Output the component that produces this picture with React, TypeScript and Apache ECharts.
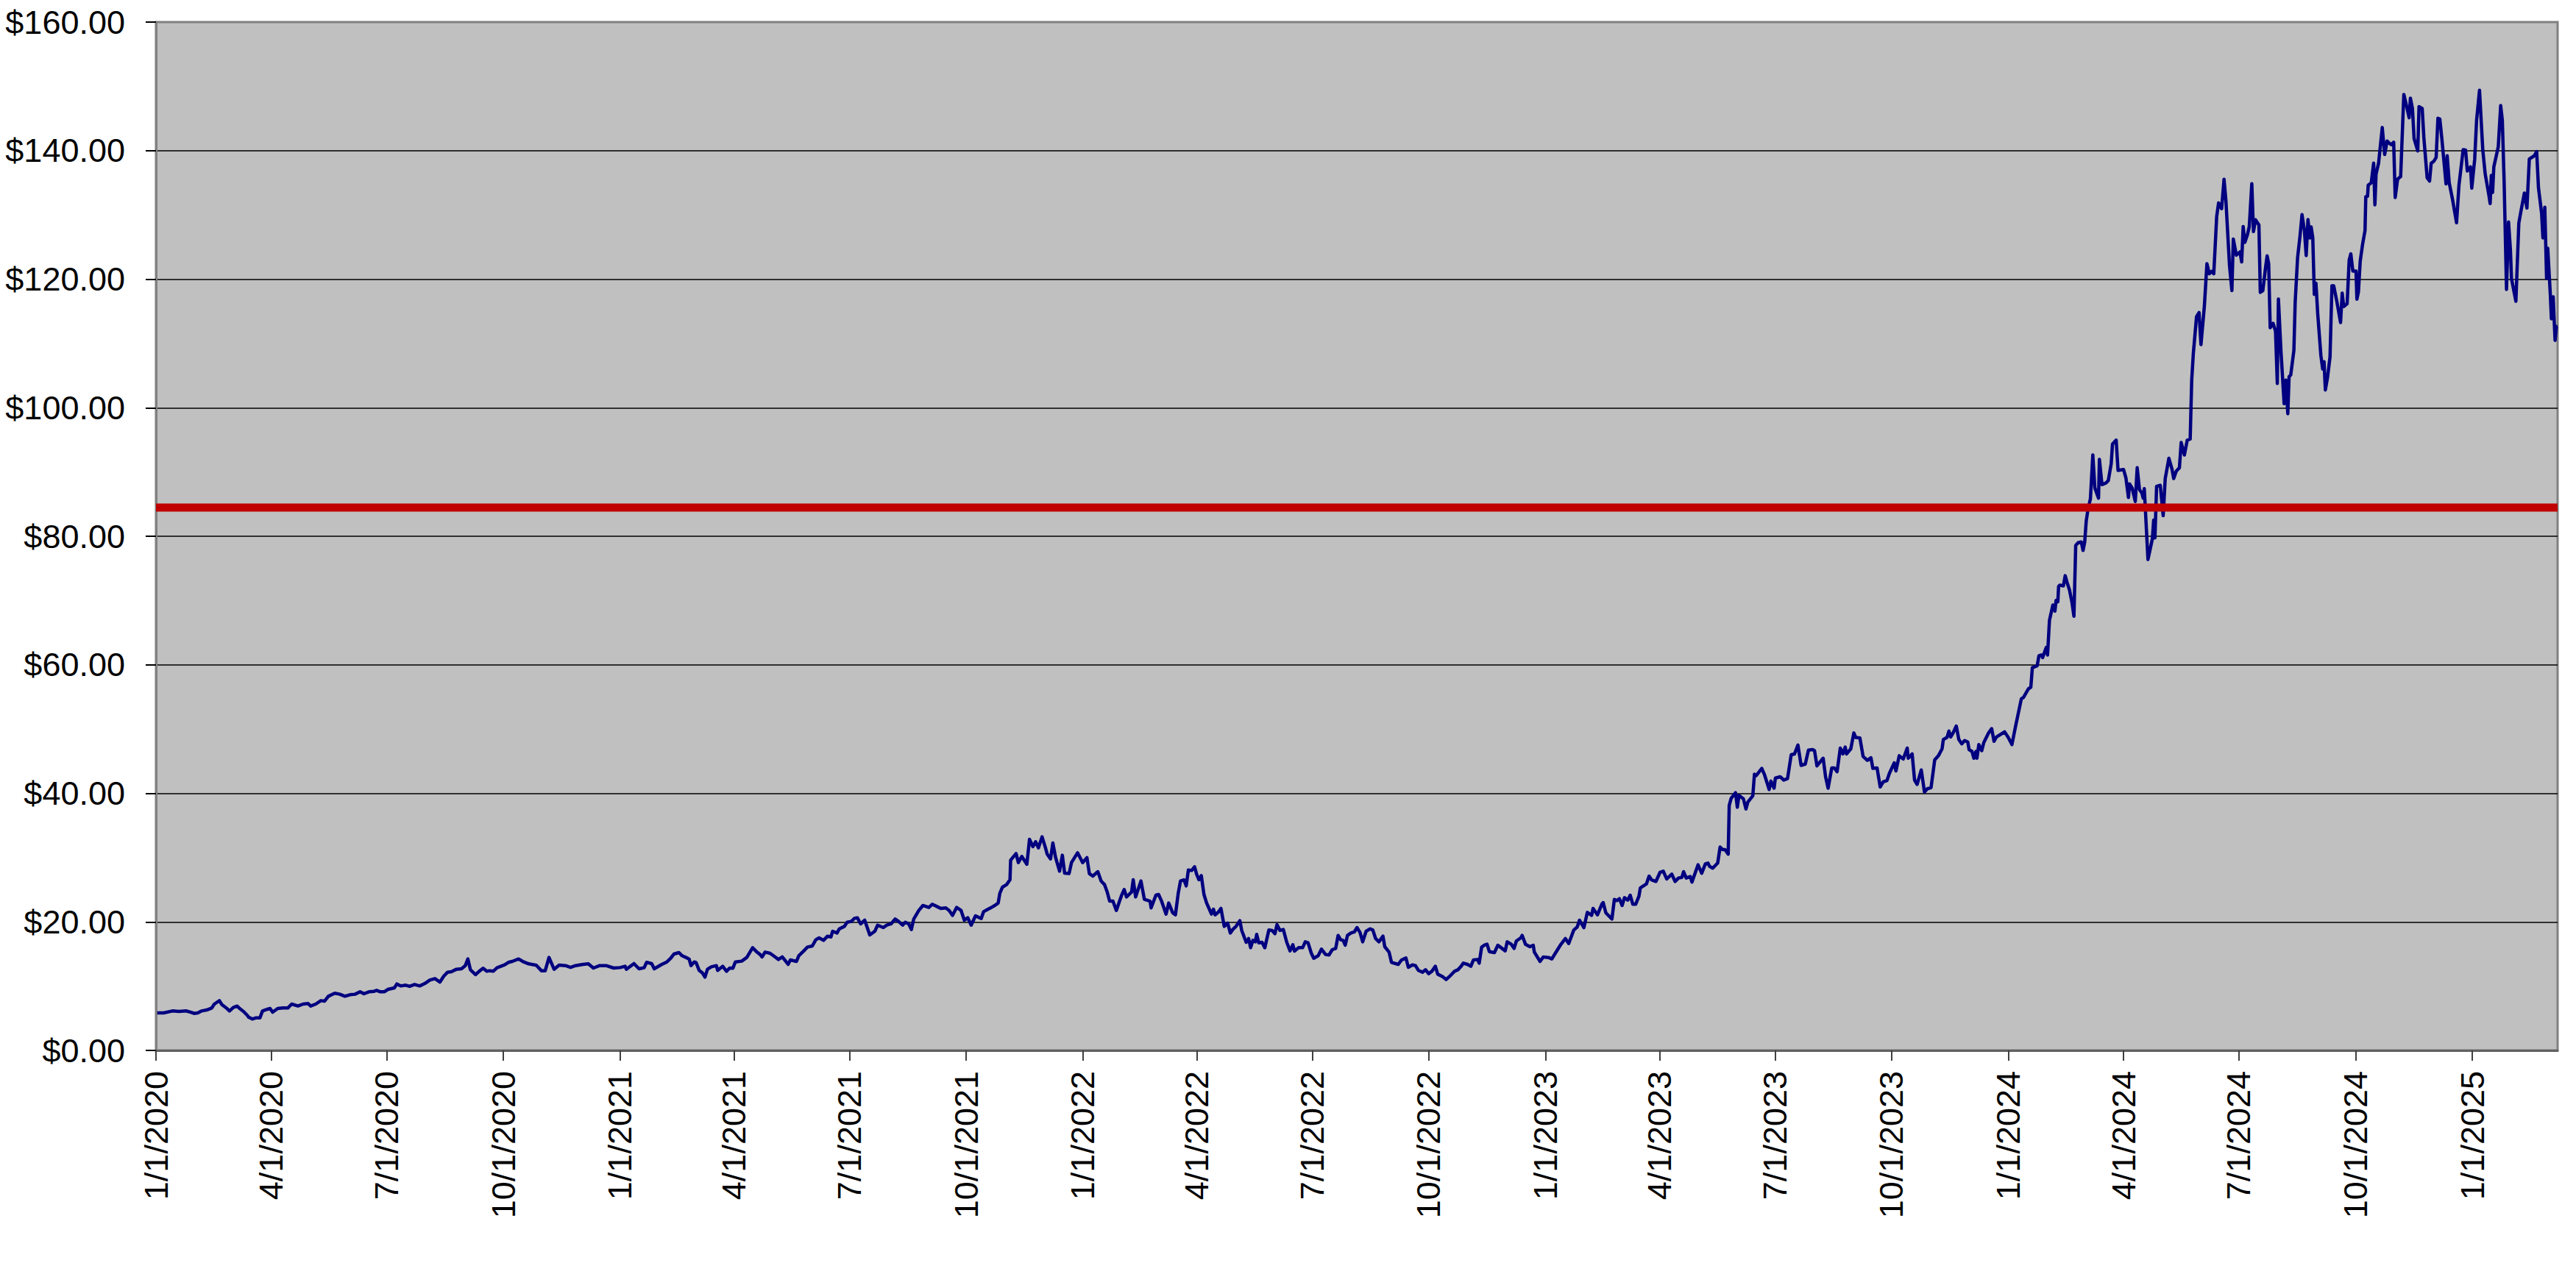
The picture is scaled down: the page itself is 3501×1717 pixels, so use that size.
import React, { useEffect, useRef } from "react";
import * as echarts from "echarts";

// X values are calendar days counted from 1/1/2020; Y values are prices in $.
const START_DATE = "2020-01-01";

const prices2020: [number, number][] = [
  [1, 5.84], [6, 5.84], [13, 6.14], [18, 6.07], [24, 6.14], [28, 5.91], [30, 5.76], [33, 5.84],
  [36, 6.14], [40, 6.29], [44, 6.6], [46, 7.21], [50, 7.74], [52, 7.13], [56, 6.52], [58, 6.14],
  [61, 6.68], [64, 6.9], [66, 6.52], [69, 6.07], [72, 5.46], [73, 5.19], [76, 4.88], [79, 5.07],
  [82, 5.07], [84, 6.14], [88, 6.41], [90, 6.52], [92, 5.95], [96, 6.52], [100, 6.6], [104, 6.6],
  [107, 7.21], [112, 6.9], [116, 7.21], [120, 7.29], [122, 6.9], [126, 7.21], [130, 7.74], [133, 7.67],
  [136, 8.43], [141, 8.89], [145, 8.74], [149, 8.43], [153, 8.66], [157, 8.74], [161, 9.12], [164, 8.81],
  [168, 9.12], [172, 9.19], [174, 9.35], [177, 9.12], [180, 9.12], [183, 9.5], [188, 9.73], [190, 10.34],
  [193, 10.03], [197, 10.15], [200, 9.96], [204, 10.26], [208, 10.03], [212, 10.41], [216, 10.95], [220, 11.18],
  [224, 10.64], [227, 11.56], [230, 12.17], [233, 12.25], [237, 12.63], [241, 12.7], [244, 13.2], [246, 14.23],
  [248, 12.55], [252, 11.79], [255, 12.32], [258, 12.78], [261, 12.32], [263, 12.4], [266, 12.32], [269, 12.86],
  [272, 13.09], [275, 13.31], [278, 13.7], [281, 13.85], [286, 14.23], [290, 13.77], [294, 13.47], [300, 13.24],
  [304, 12.4], [307, 12.4], [310, 14.46], [314, 12.63], [318, 13.28], [323, 13.2], [327, 12.93], [331, 13.2],
  [337, 13.39], [341, 13.47], [345, 12.82], [350, 13.2], [355, 13.2], [361, 12.82],
];

const prices2021: [number, number][] = [
  [366, 12.89], [370, 13.09], [371, 12.63], [377, 13.51], [381, 12.7], [385, 12.86], [387, 13.7], [391, 13.51],
  [393, 12.7], [399, 13.39], [403, 13.77], [406, 14.34], [408.5, 14.99], [412.5, 15.22], [415, 14.73], [418, 14.46],
  [420.5, 14.23], [422, 13.2], [424.5, 13.77], [426, 13.66], [428.5, 12.44], [431, 12.06], [433, 11.41], [435, 12.63],
  [438, 13.01], [442, 13.2], [443, 12.44], [447, 13.09], [450, 12.32], [452.5, 12.82], [455, 12.78], [457, 13.77],
  [462, 13.89], [466, 14.46], [468.5, 15.3], [470.6, 15.98], [474, 15.3], [476.5, 14.92], [478, 14.54], [480.5, 15.3],
  [484.4, 15.11], [488.4, 14.54], [491, 14.15], [494, 14.54], [496.4, 13.96], [498.6, 13.39], [500.4, 14.08], [505.2, 13.85],
  [507, 14.73], [511, 15.49], [513.7, 16.06], [517.7, 16.25], [520.4, 17.21], [523, 17.51], [526.5, 17.13], [529.7, 17.78],
  [532.4, 17.66], [533.7, 18.54], [537.2, 18.27], [539, 18.92], [543, 19.3], [545.2, 19.95], [548.4, 20.07], [551, 20.56],
  [553.2, 20.64], [555.8, 19.69], [559, 20.26], [563, 17.97], [567, 18.54], [569.2, 19.49], [573.7, 19.11], [576.4, 19.49],
  [579.8, 19.69], [583, 20.45], [585.7, 20.07], [588.9, 19.49], [591, 19.95], [593.7, 19.69], [595.8, 18.81], [597.7, 20.45],
  [601.7, 21.78], [604.9, 22.55], [609.6, 22.24], [612.3, 22.74], [616.3, 22.36], [619, 22.09], [623, 22.17], [625.6, 21.78],
  [628.3, 21.02], [631.5, 22.24], [635, 21.78], [637.6, 20.26], [640.3, 20.64], [643, 19.49], [646.4, 20.94], [650.9, 20.52],
  [652.8, 21.59], [656.3, 21.97], [658.9, 22.24], [661.6, 22.55], [664.3, 22.93], [665.6, 24.45], [667.7, 25.41], [670.9, 25.79],
  [673.6, 26.55], [674.1, 29.6], [678.4, 30.63], [680.2, 29.22], [682.9, 30.18], [686.9, 28.96], [689, 32.85], [691.7, 31.7],
  [693.8, 32.47], [696, 31.51], [698.9, 33.23], [701.6, 31.51], [702.9, 30.56], [705.6, 29.79], [707.4, 32.27], [709.6, 29.99],
  [712.7, 27.89], [714.9, 30.37], [716.7, 27.58], [720.2, 27.51], [722.1, 29.22], [726.9, 30.75],
];

const prices2022: [number, number][] = [
  [730.9, 29.22], [734.3, 29.99], [736.2, 27.51], [738.9, 27.12], [742.9, 27.81], [745.5, 26.36], [748.2, 25.79], [750.3, 24.64],
  [752.2, 23.23], [754.8, 23.23], [757.5, 21.78], [761.5, 24.07], [763.7, 25.03], [765.5, 23.88], [769.5, 24.64], [770.8, 26.55],
  [772.7, 23.88], [776.9, 26.36], [779.6, 23.5], [784.1, 23.23], [784.9, 22.17], [788.7, 24.15], [790.8, 24.26], [793, 23.31],
  [796.7, 21.21], [798.8, 22.93], [802, 21.4], [804.1, 21.1], [806.3, 24.45], [808.1, 26.36], [810.8, 26.55], [812.6, 25.6],
  [814.3, 28.08], [816.9, 28.0], [819.2, 28.57], [820.8, 27.43], [822.6, 26.55], [824.5, 27.2], [826.6, 24.26], [828.7, 22.93],
  [830.6, 22.09], [832.5, 21.21], [834.1, 21.97], [835.4, 21.1], [837.8, 21.48], [840, 22.09], [842.6, 19.3], [845.3, 19.8],
  [847.4, 18.27], [849.3, 18.81], [851.9, 19.3], [854.9, 20.18], [856.4, 18.66], [859.9, 16.82], [861.8, 17.4], [863.4, 15.98],
  [865.2, 17.13], [867.1, 16.9], [868.2, 18.05], [869.8, 16.75], [872.4, 16.82], [874.6, 15.98], [877.8, 18.73], [880.4, 18.66],
  [882.6, 18.16], [884.2, 19.57], [886.6, 18.66], [889.2, 18.81], [891.9, 16.82], [894.5, 15.49], [896.7, 16.44], [898, 15.45],
  [901.2, 15.98], [904.4, 15.98], [906.5, 16.9], [908.7, 16.75], [911.3, 15.11], [913.2, 14.34], [916.7, 14.73], [919.3, 15.76],
  [922.5, 14.92], [925.2, 14.84], [927.8, 15.68], [930.5, 15.87], [932.4, 17.89], [934.5, 17.21], [936.4, 17.13], [938, 16.37],
  [939.8, 17.89], [942.5, 18.27], [945.2, 18.43], [947.3, 19.11], [949.7, 18.35], [951.8, 16.9], [954.5, 18.54], [957.7, 18.92],
  [959.8, 18.73], [962, 17.4], [964.6, 16.9], [967.8, 17.78], [969.2, 16.14], [972.6, 15.3], [974.5, 13.7], [979.8, 13.39],
  [982.5, 14.08], [985.9, 14.38], [987.8, 12.93], [991, 13.31], [993.4, 13.2], [995.8, 12.44], [999, 12.17], [1001.4, 12.55],
  [1003.8, 11.94], [1006.4, 12.32], [1009.1, 13.09], [1011, 11.86], [1014.9, 11.48], [1017.6, 11.03], [1021.1, 11.67], [1024.3, 12.32],
  [1026.9, 12.55], [1029.1, 13.01], [1031.2, 13.58], [1034.4, 13.39], [1037.1, 13.09], [1039.2, 14.08], [1042.4, 14.15], [1043.7, 13.58],
  [1045.6, 16.06], [1047.7, 16.37], [1049.9, 16.52], [1051.7, 15.37], [1055.7, 15.22], [1058.4, 16.37], [1061, 15.98], [1064.2, 15.49],
  [1065.8, 16.9], [1069, 16.52], [1071.2, 15.87], [1073, 17.02], [1076.5, 17.51], [1077.6, 17.89], [1080.2, 16.52], [1083.7, 16.14],
  [1086.3, 16.37], [1087.2, 15.3], [1091.7, 13.85], [1094.3, 14.54],
];

const prices2023: [number, number][] = [
  [1098.3, 14.46], [1101, 14.23], [1103.7, 15.11], [1107.7, 16.37], [1111.7, 17.4], [1114.3, 16.63], [1118.3, 18.73], [1121, 19.19],
  [1122.8, 20.26], [1126.3, 19.11], [1129, 21.48], [1132.4, 21.02], [1133.5, 22.09], [1137, 21.1], [1140.4, 22.74], [1141.5, 23.0],
  [1143.6, 21.4], [1148.4, 20.45], [1150.3, 23.5], [1152.2, 23.31], [1154.3, 23.61], [1156.4, 22.55], [1158.3, 23.77], [1160.9, 23.39],
  [1162.8, 24.15], [1164.9, 22.74], [1167.1, 22.74], [1169.7, 24.0], [1170.8, 25.29], [1175.6, 25.9], [1177.7, 27.12], [1179.6, 26.55],
  [1183.1, 26.29], [1186.3, 27.7], [1188.9, 27.89], [1191.6, 26.67], [1195.6, 27.43], [1198.2, 26.29], [1200.9, 26.82], [1203.6, 26.93],
  [1204.9, 27.81], [1207, 26.82], [1210.2, 27.05], [1211.5, 26.19], [1216.3, 28.88], [1219.2, 27.57], [1222.1, 29.03], [1224.1, 29.15],
  [1225.4, 28.64], [1227.9, 28.36], [1231.8, 29.15], [1233.7, 31.64], [1235.7, 31.24], [1237.6, 31.24], [1240.1, 30.53], [1240.9, 38.11],
  [1242.4, 39.22], [1245.9, 40.09], [1247.3, 37.84], [1248.6, 39.69], [1252.1, 39.14], [1254.1, 37.56], [1255.6, 38.63], [1259.5, 39.61],
  [1260.8, 42.97], [1262.2, 42.77], [1266.6, 43.88], [1268.6, 42.97], [1272.4, 40.6], [1273.8, 41.9], [1276.3, 40.8], [1277.3, 42.38],
  [1281.1, 42.57], [1284, 42.06], [1286.9, 42.3], [1289.8, 46.01], [1292.4, 46.13], [1295.1, 47.51], [1297.6, 44.35], [1300.9, 44.55],
  [1303.4, 46.72], [1306.7, 46.8], [1308.2, 46.64], [1310.1, 44.27], [1315, 45.46], [1316.9, 42.57], [1318.9, 40.8], [1321.8, 43.96],
  [1323.7, 43.96], [1326, 43.37], [1328.5, 47.04], [1330.5, 46.13], [1332.4, 47.19], [1333.4, 46.13], [1336.8, 46.92], [1339.2, 49.4],
  [1340.7, 48.69], [1344, 48.61], [1346.5, 45.73], [1349.8, 45.14], [1352.7, 45.53], [1354.2, 43.88], [1357.5, 43.96], [1360, 41.0],
  [1362.4, 41.78], [1365.3, 41.98], [1367.2, 43.09], [1371.1, 44.75], [1372.4, 43.48], [1375, 45.85], [1378.2, 45.34], [1381.3, 47.04],
  [1382.1, 45.46], [1385.2, 46.13], [1387.1, 42.06], [1389.1, 41.39], [1392.4, 43.64], [1394.9, 40.21], [1397.2, 40.72], [1400.1, 40.88],
  [1403, 45.22], [1405.9, 45.85], [1408.8, 46.92], [1409.8, 48.38], [1412.7, 48.69], [1414.2, 49.68], [1415.6, 48.77], [1417.5, 49.4],
  [1420, 50.47], [1422, 48.38], [1424.3, 47.71], [1426.6, 48.22], [1429.1, 47.98], [1430.1, 46.8], [1432.4, 46.52], [1433.9, 45.46],
  [1435.5, 46.52], [1436.3, 45.46], [1437.8, 47.59], [1440.1, 46.64], [1441.7, 47.9], [1445.5, 49.4], [1447.9, 50.07], [1449.8, 48.1],
  [1451.7, 48.77], [1458.1, 49.56],
];

const prices2024: [number, number][] = [
  [1461, 48.69], [1463.9, 47.59], [1466.8, 50.47], [1471.3, 54.69], [1473, 54.93], [1476.9, 56.27], [1478.8, 56.51], [1480, 59.55],
  [1483.8, 59.83], [1485.2, 61.41], [1487.1, 61.52], [1488.1, 61.13], [1491, 62.71], [1492, 61.52], [1493.5, 66.93], [1496.2, 69.3],
  [1497.8, 68.35], [1498.7, 70.01], [1500.1, 69.81], [1500.7, 72.18], [1501.6, 72.38], [1504.5, 72.28], [1505.9, 73.86], [1507.4, 72.81],
  [1509.3, 71.65], [1511.3, 69.66], [1512.8, 67.56], [1514.2, 78.58], [1516.1, 79.0], [1518.6, 79.11], [1520, 77.8], [1521.3, 79.11],
  [1522.5, 82.36], [1523.8, 84.09], [1525.8, 85.83], [1527.7, 92.65], [1529.3, 87.51], [1532.2, 85.93], [1532.9, 91.97], [1534.9, 88.03],
  [1538, 88.29], [1539.9, 88.66], [1542.2, 91.29], [1543.2, 94.33], [1546.1, 94.96], [1547.6, 90.24], [1551.9, 90.39], [1553.8, 89.08],
  [1555.8, 86.04], [1556.7, 88.14], [1558.7, 87.51], [1561.2, 85.41], [1562.7, 90.66], [1564.5, 87.24], [1566.4, 86.72], [1567.4, 85.93],
  [1568.3, 87.4], [1571.2, 76.38], [1574.7, 79.63], [1575.7, 82.52], [1576.7, 79.74], [1578, 87.77], [1580.9, 87.93], [1583.2, 83.2],
  [1584.8, 88.98], [1587.7, 92.13], [1590.2, 90.39], [1591.5, 88.98], [1593.5, 90.13], [1596, 90.66], [1597.4, 94.59], [1599.9, 92.65],
  [1602.2, 94.96], [1604.5, 95.12], [1605.7, 104.3], [1607, 108.5], [1609.5, 114.17], [1611.5, 114.8], [1613, 109.82], [1615.7, 115.85],
  [1617.7, 122.41], [1619.6, 120.84], [1621.5, 121.21], [1623.1, 120.84], [1625.4, 129.76], [1626.9, 131.86], [1629.3, 130.97], [1631.2, 135.54],
  [1632.7, 132.13], [1635.5, 122.15], [1637.4, 118.22], [1638.5, 126.25], [1640.9, 123.73], [1643.8, 124.25], [1645.1, 122.68], [1646.3, 128.19],
  [1647.6, 125.72], [1649.6, 126.88], [1651.1, 128.19], [1653.1, 134.86], [1654.4, 127.4], [1656, 129.24], [1658.7, 128.45], [1659.8, 117.95],
  [1661.8, 118.22], [1664.1, 122.05], [1665.2, 123.62], [1666.4, 122.41], [1667.6, 112.44], [1669.9, 113.12], [1671.8, 111.92], [1673.2, 103.78],
  [1674.1, 116.9], [1676.1, 108.77], [1678.6, 100.63], [1679.9, 104.3], [1681.5, 99.06], [1682.5, 104.83], [1683.8, 105.09], [1686.3, 108.92],
  [1687.3, 116.38], [1689.2, 123.31], [1691.2, 126.88], [1692.7, 130.03], [1694.6, 127.56], [1696, 123.67], [1697.4, 129.28], [1698.9, 126.42],
  [1699.9, 128.13], [1701.2, 126.42], [1702.4, 117.64], [1703.7, 119.36], [1705.1, 114.59], [1707.6, 108.1], [1709, 106.01], [1710.1, 107.15],
  [1711.1, 102.76], [1712.8, 104.67], [1714.8, 107.91], [1716.3, 118.98], [1717.7, 118.98], [1720.2, 116.5], [1723.1, 113.25], [1724.4, 117.83],
  [1725.6, 115.73], [1728.3, 116.19], [1729.9, 122.98], [1731.2, 123.94], [1732.8, 121.27], [1735.3, 121.27], [1736, 116.88], [1737.2, 118.02],
  [1738.6, 122.79], [1740.5, 125.46], [1742.4, 127.56], [1743, 132.83], [1744.4, 132.9], [1744.9, 134.62], [1747.3, 135.0], [1749.2, 138.05],
  [1750.2, 131.57], [1751.1, 136.34], [1753.1, 138.05], [1756, 143.59], [1757.9, 139.39], [1759.8, 141.49], [1761.8, 141.11], [1763.1, 140.92],
  [1765, 141.3], [1766.2, 132.71], [1768.1, 135.57], [1770.5, 135.96], [1773, 148.74], [1775.3, 146.83], [1777.2, 145.11], [1778.2, 148.16],
  [1779.8, 146.56], [1781.1, 141.87], [1784, 139.96], [1785, 146.83], [1787.5, 146.56], [1788.8, 142.06], [1791.4, 135.77], [1793.3, 135.27],
  [1794.6, 138.05], [1796.6, 138.32], [1798.5, 138.93], [1799.9, 145.04], [1801.4, 144.92], [1803, 141.87], [1806.3, 134.81], [1807.2, 139.2],
  [1808.8, 135.0], [1811.5, 132.33], [1814.6, 128.78], [1816.5, 134.62], [1819.8, 140.15], [1821.7, 140.08], [1823.1, 136.83], [1825.6, 137.48],
];

const prices2025: [number, number][] = [
  [1826.6, 134.16], [1828.9, 138.63], [1830.4, 144.73], [1832.7, 149.39], [1835.3, 140.08], [1837.2, 136.34], [1840.1, 133.09], [1841.1, 131.76],
  [1842, 136.15], [1843, 133.48], [1844, 137.48], [1847.5, 140.61], [1849.4, 147.02], [1850.7, 144.73], [1852.1, 135.38], [1854, 118.41],
  [1855.6, 128.9], [1857.1, 124.51], [1857.9, 120.12], [1861.4, 116.57], [1863.7, 128.71], [1865.6, 130.8], [1868.1, 133.4], [1870.1, 131.07],
  [1872, 138.7], [1875.9, 139.2], [1877.8, 139.85], [1879.2, 134.24], [1881.7, 130.23], [1882.7, 126.42], [1884.2, 131.19], [1885.6, 120.12],
  [1886.5, 124.81], [1888.5, 117.83], [1889.4, 113.83], [1890.8, 117.26], [1892.3, 110.47], [1893.3, 112.61], [1894.3, 112.68],
];

const referenceLevel = 84.45;

const xTickLabels = [
  "1/1/2020", "4/1/2020", "7/1/2020", "10/1/2020",
  "1/1/2021", "4/1/2021", "7/1/2021", "10/1/2021",
  "1/1/2022", "4/1/2022", "7/1/2022", "10/1/2022",
  "1/1/2023", "4/1/2023", "7/1/2023", "10/1/2023",
  "1/1/2024", "4/1/2024", "7/1/2024", "10/1/2024",
  "1/1/2025",
];

const yMin = 0;
const yMax = 160;
const yStep = 20;

const DAY_MS = 86400000;
const startMs = Date.parse(START_DATE + "T00:00:00Z");
const dayOf = (label: string) => {
  const [m, d, y] = label.split("/").map(Number);
  return Math.round((Date.UTC(y, m - 1, d) - startMs) / DAY_MS);
};

export default function App() {
  const ref = useRef<HTMLDivElement>(null);

  useEffect(() => {
    document.body.style.margin = "0";
    document.body.style.overflow = "hidden";
    if (!ref.current) return;
    const chart = echarts.init(ref.current, null, { renderer: "svg" });

    const pricePoints = [
      ...prices2020, ...prices2021, ...prices2022, ...prices2023, ...prices2024, ...prices2025,
    ];
    const tickDays = xTickLabels.map(dayOf);
    const lastDay = pricePoints[pricePoints.length - 1][0];
    const font = "'Liberation Sans', Arial, sans-serif";

    chart.setOption({
      animation: false,
      backgroundColor: "#ffffff",
      textStyle: { fontFamily: font },
      grid: {
        left: 212,
        top: 30,
        right: 25,
        bottom: 289,
        show: true,
        backgroundColor: "#C0C0C0",
        borderColor: "#808080",
        borderWidth: 3,
      },
      xAxis: {
        type: "value",
        min: 0,
        max: lastDay,
        axisLine: { show: true, onZero: false, lineStyle: { color: "#606060", width: 3 } },
        axisTick: {
          show: true,
          customValues: tickDays,
          length: 14,
          lineStyle: { color: "#404040", width: 2 },
        },
        axisLabel: {
          show: true,
          customValues: tickDays,
          rotate: 90,
          margin: 28,
          fontSize: 45,
          color: "#000000",
          fontFamily: font,
          formatter: (v: number) => {
            const i = tickDays.indexOf(Math.round(v));
            return i >= 0 ? xTickLabels[i] : "";
          },
        },
        splitLine: { show: false },
      },
      yAxis: {
        type: "value",
        min: yMin,
        max: yMax,
        interval: yStep,
        axisLine: { show: true, lineStyle: { color: "#808080", width: 3 } },
        axisTick: { show: true, length: 14, lineStyle: { color: "#000000", width: 2 } },
        axisLabel: {
          margin: 42,
          fontSize: 45,
          color: "#000000",
          fontFamily: font,
          formatter: (v: number) => "$" + v.toFixed(2),
        },
        splitLine: {
          show: true,
          showMinLine: false,
          showMaxLine: false,
          lineStyle: { color: "#000000", width: 1.5 },
        },
      },
      series: [
        {
          type: "line",
          data: pricePoints,
          symbol: "none",
          showSymbol: false,
          lineStyle: { color: "#000080", width: 4.5, join: "round" },
          z: 2,
        },
        {
          type: "line",
          data: [[0, referenceLevel], [lastDay, referenceLevel]],
          symbol: "none",
          showSymbol: false,
          lineStyle: { color: "#C00000", width: 11 },
          z: 3,
        },
      ],
    });

    return () => chart.dispose();
  }, []);

  return <div ref={ref} style={{ width: 3501, height: 1717 }} />;
}
